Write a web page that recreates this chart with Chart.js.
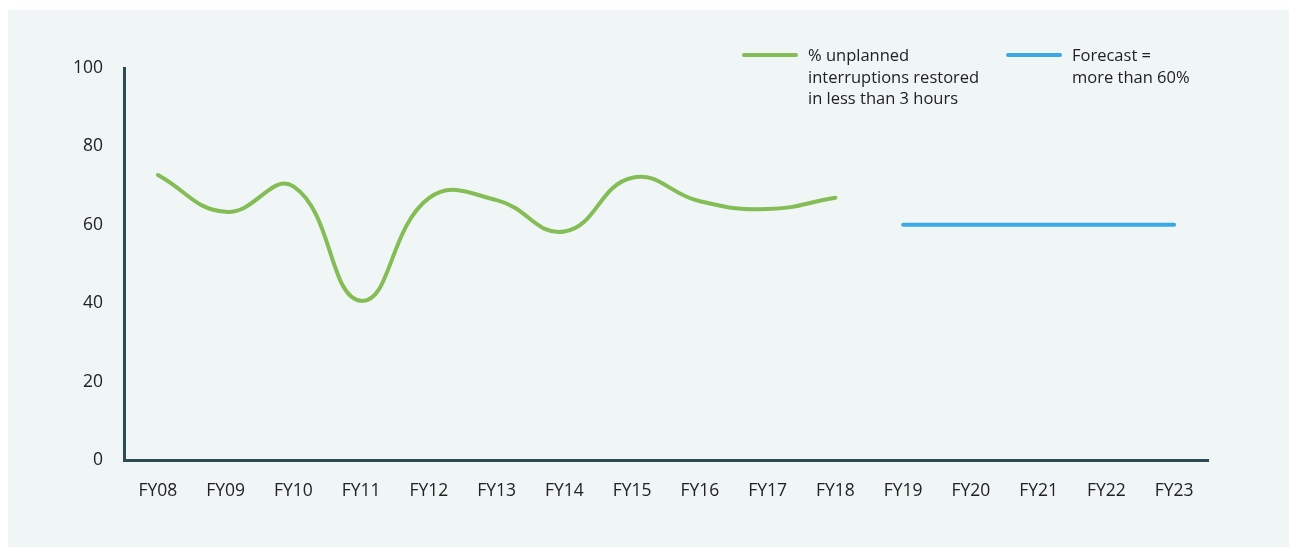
<!DOCTYPE html>
<html lang="en">
<head>
    <meta charset="UTF-8">
    <title>Unplanned interruptions restored</title>
    <script src="https://cdn.jsdelivr.net/npm/chart.js"></script>
    <style>
        html, body { margin: 0; padding: 0; background: #ffffff; }
        body { width: 1289px; height: 547px; position: relative; overflow: hidden; font-family: "Open Sans", sans-serif; }
        .panel { position: absolute; left: 8px; top: 10px; right: 0; bottom: 0; background: #f0f5f5; }
        #wrap { position: absolute; left: 0; top: 0; width: 1289px; height: 547px; }
        .legend { position: absolute; top: 44px; font-size: 16.5px; line-height: 21.5px; color: #222; }
        .legend .item { position: absolute; white-space: nowrap; }
        .legend .swatch { position: absolute; top: 9px; width: 56px; height: 4px; border-radius: 2px; }
        .legend .text { position: absolute; left: 66px; top: 0; }
    </style>
</head>
<body>
    <div class="panel"></div>
    <div id="wrap"><canvas id="chart"></canvas></div>
    <div class="legend" id="legend"></div>

    <script>
        const years = ['FY08', 'FY09', 'FY10', 'FY11', 'FY12', 'FY13', 'FY14', 'FY15',
                       'FY16', 'FY17', 'FY18', 'FY19', 'FY20', 'FY21', 'FY22', 'FY23'];
        const restored = [72.7, 63.3, 69.8, 40.6, 66.8, 66.3, 58.3, 72.0, 66.0, 64.0, 66.9,
                          null, null, null, null, null];
        const forecast = [null, null, null, null, null, null, null, null, null, null, null,
                          60, 60, 60, 60, 60];
        const restoredLabel = ['% unplanned', 'interruptions restored', 'in less than 3 hours'];
        const forecastLabel = ['Forecast =', 'more than 60%'];
        const yTicks = [0, 20, 40, 60, 80, 100];

        const green = '#84bd55';
        const blue = '#3ba9e8';
        const axisColor = '#2e4b53';

        const ctx = document.getElementById('chart').getContext('2d');
        new Chart(ctx, {
            type: 'line',
            data: {
                labels: years,
                datasets: [
                    {
                        label: restoredLabel.join(' '),
                        data: restored,
                        borderColor: green,
                        borderWidth: 4,
                        tension: 0.45,
                        pointRadius: 0,
                        borderCapStyle: 'round'
                    },
                    {
                        label: forecastLabel.join(' '),
                        data: forecast,
                        borderColor: blue,
                        borderWidth: 4,
                        pointRadius: 0,
                        borderCapStyle: 'round'
                    }
                ]
            },
            options: {
                responsive: true,
                maintainAspectRatio: false,
                animation: false,
                layout: { padding: { top: 68, right: 81, left: 0, bottom: 0 } },
                plugins: { legend: { display: false }, tooltip: { enabled: false } },
                scales: {
                    x: {
                        offset: true,
                        grid: { display: false, drawTicks: false },
                        border: { display: true, color: axisColor, width: 3 },
                        ticks: { color: '#222', padding: 21, font: { family: 'Open Sans', size: 17.5 }, maxRotation: 0, autoSkip: false },
                        afterFit: s => { s.height = 87; }
                    },
                    y: {
                        min: 0,
                        max: 100,
                        afterBuildTicks: s => { s.ticks = yTicks.map(v => ({ value: v })); },
                        grid: { display: false, drawTicks: false },
                        border: { display: true, color: axisColor, width: 3 },
                        ticks: { color: '#222', padding: 21, font: { family: 'Open Sans', size: 17.5 } },
                        afterFit: s => { s.width = 124; }
                    }
                }
            }
        });

        // legend with wrapped lines
        const legend = document.getElementById('legend');
        [[742, green, restoredLabel], [1006, blue, forecastLabel]].forEach(([x, color, lines]) => {
            const item = document.createElement('div');
            item.className = 'item';
            item.style.left = x + 'px';
            const sw = document.createElement('div');
            sw.className = 'swatch';
            sw.style.background = color;
            const tx = document.createElement('div');
            tx.className = 'text';
            tx.innerHTML = lines.join('<br>');
            item.appendChild(sw);
            item.appendChild(tx);
            legend.appendChild(item);
        });
    </script>
</body>
</html>
